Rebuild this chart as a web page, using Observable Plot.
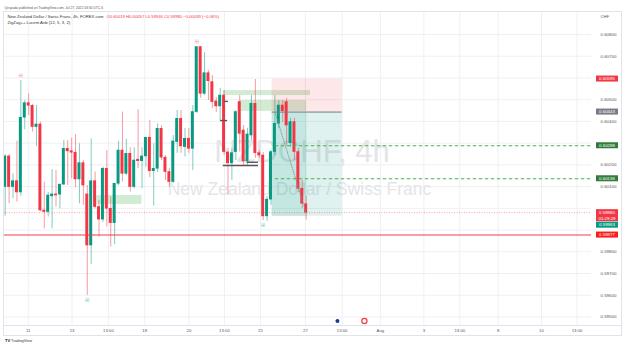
<!DOCTYPE html>
<html><head><meta charset="utf-8">
<script src="https://cdn.jsdelivr.net/npm/d3@7"></script>
<script src="https://cdn.jsdelivr.net/npm/@observablehq/plot@0.6"></script>
<style>
html,body{margin:0;padding:0;background:#fff;}
#chart{width:625px;height:348px;overflow:hidden;}
</style></head>
<body><div id="chart"></div>
<script>
// ---- data (4h bars, NZDCHF) ----
const opens  = [0.60098,0.60239,0.60098,0.60125,0.60073,0.60417,0.60484,0.60472,0.60374,0.60386,
                0.59990,0.59983,0.60055,0.60064,0.60063,0.60109,0.60274,0.60263,0.60256,0.60133,
                0.60208,0.60064,0.59829,0.60125,0.60006,0.59948,0.60182,0.59998,0.59932,0.60113,
                0.60266,0.60159,0.60251,0.60098,0.60224,0.60217,0.60239,0.60325,0.60171,0.60182,
                0.60366,0.60233,0.60167,0.60121,0.60305,0.60412,0.60282,0.60320,0.60274,0.60443,
                0.60742,0.60527,0.60622,0.60581,0.60492,0.60469,0.60519,0.60257,0.60207,0.60259,
                0.60489,0.60358,0.60216,0.60335,0.60481,0.60254,0.60243,0.59963,0.60040,0.60259,
                0.60389,0.60473,0.60489,0.60300,0.60397,0.60259,0.60090,0.60019];
const highs  = [0.60247,0.60247,0.60159,0.60309,0.60588,0.60496,0.60527,0.60478,0.60473,0.60397,
                0.60121,0.60073,0.60178,0.60174,0.60110,0.60312,0.60312,0.60323,0.60340,0.60297,
                0.60220,0.60105,0.60320,0.60167,0.60036,0.60190,0.60266,0.60052,0.60113,0.60308,
                0.60443,0.60317,0.60279,0.60279,0.60454,0.60279,0.60325,0.60404,0.60297,0.60389,
                0.60381,0.60243,0.60184,0.60335,0.60450,0.60450,0.60368,0.60368,0.60473,0.60745,
                0.60745,0.60717,0.60634,0.60611,0.60510,0.60552,0.60542,0.60276,0.60276,0.60450,
                0.60519,0.60381,0.60368,0.60519,0.60593,0.60266,0.60257,0.60055,0.60266,0.60519,
                0.60496,0.60496,0.60506,0.60414,0.60414,0.60276,0.60128,0.60057];
const lows   = [0.59964,0.60021,0.60044,0.60029,0.60055,0.60362,0.60427,0.60351,0.60285,0.59983,
                0.59906,0.59960,0.59906,0.60006,0.59998,0.60105,0.60105,0.60136,0.60095,0.60021,
                0.60013,0.59600,0.59742,0.59998,0.59868,0.59935,0.59914,0.59822,0.59833,0.60105,
                0.60121,0.60151,0.60075,0.60090,0.60182,0.60090,0.60190,0.60141,0.60010,0.60165,
                0.60220,0.60128,0.60096,0.60115,0.60253,0.60253,0.60236,0.60253,0.60174,0.60437,
                0.60506,0.60519,0.60496,0.60460,0.60441,0.60404,0.60243,0.60059,0.60128,0.60220,
                0.60259,0.60197,0.60197,0.60312,0.60230,0.60230,0.59944,0.59940,0.60013,0.60243,
                0.60368,0.60395,0.60289,0.60280,0.60220,0.60073,0.60000,0.59946];
const closes = [0.60239,0.60098,0.60125,0.60073,0.60417,0.60484,0.60472,0.60374,0.60386,0.59990,
                0.59983,0.60059,0.60064,0.60059,0.60109,0.60274,0.60262,0.60256,0.60133,0.60208,
                0.60105,0.59829,0.60125,0.60006,0.59948,0.60182,0.59998,0.59932,0.60113,0.60266,
                0.60159,0.60251,0.60098,0.60220,0.60217,0.60239,0.60325,0.60171,0.60182,0.60366,
                0.60233,0.60167,0.60121,0.60308,0.60412,0.60285,0.60320,0.60274,0.60443,0.60742,
                0.60527,0.60622,0.60585,0.60489,0.60469,0.60519,0.60259,0.60207,0.60254,0.60443,
                0.60343,0.60216,0.60340,0.60481,0.60254,0.60243,0.59963,0.60040,0.60259,0.60389,
                0.60473,0.60447,0.60381,0.60397,0.60259,0.60090,0.60021,0.59980];

const priceTicks = [0.595,0.596,0.597,0.598,0.599,0.600,0.601,0.602,0.603,0.604,0.605,0.606,0.607,0.608];
const timeTickPos    = [5.9,17.1,26.4,35.7,47.0,56.1,65.3,76.8,86.2,96.0,107.1,116.3,126.1,137.2,146.3];
const timeTickLabels = ["11","13","13:00","18","20","13:00","25","27","13:00","Aug","3","13:00","8","10","13:00"];

const supportLevel = 0.59877;
const targetLevels = [0.60288, 0.60136];
const lastPrice = 0.59980;
const entryPrice = 0.60443, stopPrice = 0.60595, targetPrice = 0.59963;
const positionStart = 68.3, positionNow = 77.2, positionEnd = 86.2;
const levelStart = 69.1;

const zoneStart  = [55.8, 60.0, 23.4];
const zoneEnd    = [78.1, 77.1, 35.0];
const zoneTop    = [0.60542, 0.60496, 0.60059];
const zoneBottom = [0.60519, 0.60446, 0.60018];

const markStart = [56.1, 55.1, 55.8, 61.9];
const markEnd   = [57.1, 56.9, 64.8, 64.8];
const markPrice = [0.60492, 0.60404, 0.60197, 0.60212];

const pivotIdx    = [4, 49, 21, 66];
const pivotLabels = ["LH", "HH", "LL", "HL"];
const pivotIsHigh = [true, true, false, false];

const eventIdx = [85.0, 91.9];
const countdown = "01:29:29";

// ---- styles ----
const UP = "#089981", DOWN = "#f23645";
const FONT = "'Liberation Sans', Arial, sans-serif";

const bars = opens.map((o, i) => ({i, o, h: highs[i], l: lows[i], c: closes[i], up: closes[i] >= o}));
const zones = zoneStart.map((s, k) => ({x1: s, x2: zoneEnd[k], y1: zoneTop[k], y2: zoneBottom[k]}));
const marksH = markStart.map((s, k) => ({x1: s, x2: markEnd[k], y: markPrice[k]}));
const pivots = pivotIdx.map((i, k) => ({i, label: pivotLabels[k], high: pivotIsHigh[k], y: pivotIsHigh[k] ? highs[i] : lows[i]}));
const labelMap = new Map(timeTickPos.map((p, k) => [p, timeTickLabels[k]]));
const lastIdx = bars.length - 1;

const chart = Plot.plot({
  width: 625, height: 348,
  marginLeft: 4, marginRight: 34, marginTop: 12, marginBottom: 23,
  x: {domain: [-0.18, 150]},
  y: {domain: [0.594608, 0.609012]},
  style: {fontFamily: FONT, background: "#fff"},
  marks: [
    Plot.gridY(priceTicks, {stroke: "#eef0f4", strokeOpacity: 1}),
    Plot.gridX(timeTickPos, {stroke: "#eef0f4", strokeOpacity: 1}),
    // watermark
    Plot.text(["NZDCHF, 4h"], {frameAnchor: "middle", dx: 4, dy: -16.5, fontSize: 31, fill: "#e4e5e9"}),
    Plot.text(["New Zealand Dollar / Swiss Franc"], {frameAnchor: "middle", dx: 1.5, dy: 20.7, fontSize: 17.5, fill: "#e4e5e9"}),
    // zones
    Plot.rect(zones, {x1: "x1", x2: "x2", y1: "y1", y2: "y2", fill: "#4caf50", fillOpacity: 0.25}),
    // risk / reward position
    Plot.rect([{a: positionStart, b: positionEnd}], {x1: "a", x2: "b", y1: () => stopPrice, y2: () => entryPrice, fill: DOWN, fillOpacity: 0.12}),
    Plot.rect([{a: positionStart, b: positionEnd}], {x1: "a", x2: "b", y1: () => entryPrice, y2: () => targetPrice, fill: UP, fillOpacity: 0.13}),
    Plot.rect([{a: positionStart, b: positionNow}], {x1: "a", x2: "b", y1: () => entryPrice, y2: () => targetPrice, fill: UP, fillOpacity: 0.12}),
    // last price dotted line
    Plot.ruleY([lastPrice], {stroke: DOWN, strokeOpacity: 0.45, strokeDasharray: "1,1.5"}),
    // candles
    Plot.ruleX(bars, {x: "i", y1: "l", y2: "h", stroke: d => d.up ? UP : DOWN, strokeOpacity: 0.5}),
    Plot.rect(bars, {x1: d => d.i - 0.38, x2: d => d.i + 0.38, y1: "o", y2: "c", fill: d => d.up ? UP : DOWN, insetTop: -0.3, insetBottom: -0.3}),
    // support line
    Plot.ruleY([supportLevel], {stroke: DOWN, strokeOpacity: 0.65, strokeWidth: 1.6}),
    // target dashed lines
    Plot.ruleY(targetLevels, {x1: levelStart, x2: 150, stroke: "#4caf50", strokeWidth: 1.1, strokeDasharray: "3.5,2.5"}),
    // entry line
    Plot.ruleY([entryPrice], {x1: positionStart, x2: positionEnd, stroke: "#787b86", strokeWidth: 1}),
    // dotted path from entry to current price
    Plot.line([{x: positionStart + 0.7, y: entryPrice}, {x: lastIdx, y: closes[lastIdx]}], {x: "x", y: "y", stroke: "#888", strokeWidth: 0.8, strokeDasharray: "1,1.5"}),
    // zigzag level marks
    Plot.ruleY(marksH, {x1: "x1", x2: "x2", y: "y", stroke: "#555", strokeWidth: 1.4}),
    // pivot labels
    Plot.dot(pivots.filter(d => d.high), {x: "i", y: "y", dy: -5, symbol: "square", r: 2.4, fill: "#fde0e2", stroke: "none"}),
    Plot.dot(pivots.filter(d => !d.high), {x: "i", y: "y", dy: 4.5, symbol: "square", r: 2.4, fill: "#d6efeb", stroke: "none"}),
    Plot.text(pivots.filter(d => d.high), {x: "i", y: "y", dy: -5, text: "label", fontSize: 2.4, fill: "#c0606a"}),
    Plot.text(pivots.filter(d => !d.high), {x: "i", y: "y", dy: 4.5, text: "label", fontSize: 2.4, fill: "#4f8f86"}),
    // economic event icons
    Plot.dot(eventIdx, {x: d => d, frameAnchor: "bottom", dy: -4.5, r: 2.6, fill: (d, k) => k === 0 ? "#1e3a8a" : "#ffffff", stroke: (d, k) => k === 0 ? "#ffffff" : "#f23645", strokeWidth: 1.2}),
    // axes
    Plot.axisY({ticks: priceTicks, anchor: "right", tickSize: 0, tickPadding: 9, tickFormat: d => d.toFixed(5), fontSize: 4.4, fill: "#555", label: null}),
    Plot.axisX({ticks: timeTickPos, tickSize: 0, tickPadding: 3, tickFormat: d => labelMap.get(d), fontSize: 4.3, fill: "#555", label: null}),
    // header & legend
    Plot.text(["Qespada published on TradingView.com, Jul 27, 2022 03:30 UTC-6"], {frameAnchor: "top-left", dx: 0, dy: -6, textAnchor: "start", fontSize: 3.3, fill: "#555"}),
    Plot.text(["New Zealand Dollar / Swiss Franc, 4h, FOREX.com"], {frameAnchor: "top-left", dx: 3, dy: 3, textAnchor: "start", fontSize: 4.2, fill: "#333"}),
    Plot.text(["O0.60019 H0.60057 L0.59946 C0.59980 \u22120.00039 (\u22120.06%)"], {frameAnchor: "top-left", dx: 102, dy: 3, textAnchor: "start", fontSize: 4.2, fill: DOWN}),
    Plot.text(["ZigZag++ Lucem Anb (12, 5, 3, 2)"], {frameAnchor: "top-left", dx: 3, dy: 9, textAnchor: "start", fontSize: 4.2, fill: "#333"}),
    Plot.text(["CHF"], {frameAnchor: "top-right", dx: 9, dy: 3, textAnchor: "start", fontSize: 4.2, fill: "#555"}),
    Plot.text(["TV"], {frameAnchor: "bottom-left", dx: 0.5, dy: 16, textAnchor: "start", fontSize: 4.2, fontWeight: "bold", fill: "#131722"}),
    Plot.text(["TradingView"], {frameAnchor: "bottom-left", dx: 6.5, dy: 16, textAnchor: "start", fontSize: 3.8, fill: "#333"})
  ]
});

// price tags on the right axis, placed with the plot's own y scale
const ys = chart.scale("y");
const svg = d3.select(chart);
// outer pane borders
svg.append("rect").attr("x", 3.5).attr("y", 11.5).attr("width", 618).attr("height", 324).attr("fill", "none").attr("stroke", "#e0e3eb");
svg.append("line").attr("x1", 3.5).attr("x2", 621.5).attr("y1", 325.5).attr("y2", 325.5).attr("stroke", "#e0e3eb");

const tagPrices = [stopPrice, entryPrice, targetLevels[0], targetLevels[1], lastPrice, targetPrice, supportLevel];
const tagFills  = [DOWN, "#787b86", "#2f7d3a", "#2f7d3a", DOWN, UP, "#ff1a1a"];
const tags = tagPrices.map((p, k) => ({p, fill: tagFills[k], y: ys.apply(p), two: p === lastPrice}));
tags.sort((a, b) => a.y - b.y);
let prevBottom = -Infinity;
const boxes = [];
const g = svg.append("g").attr("font-family", FONT).attr("font-size", 4.4);
for (const t of tags) {
  let top = t.y - 3;
  if (top < prevBottom + 0.5) top = prevBottom + 0.5;
  const h = t.two ? 12 : 6;
  boxes.push([top, top + h]);
  g.append("rect").attr("x", 596).attr("y", top).attr("width", 22).attr("height", h).attr("fill", t.fill);
  g.append("text").attr("x", 607).attr("y", top + 3).attr("dy", "0.34em").attr("text-anchor", "middle").attr("fill", "#fff").text(t.p.toFixed(5));
  if (t.two) g.append("text").attr("x", 607).attr("y", top + 9).attr("dy", "0.34em").attr("text-anchor", "middle").attr("fill", "#fff").text(countdown);
  prevBottom = top + h;
}
// axis labels that sit behind a price tag are hidden, as on the reference
svg.selectAll('g[aria-label="y-axis tick label"] text').each(function() {
  const m = /translate\(([^,]+),([^)]+)\)/.exec(this.getAttribute("transform") || "");
  if (!m) return;
  const y = +m[2];
  if (boxes.some(([a, b]) => y + 2 > a && y - 2 < b)) d3.select(this).remove();
});
document.getElementById("chart").appendChild(chart);
</script>
</body></html>
